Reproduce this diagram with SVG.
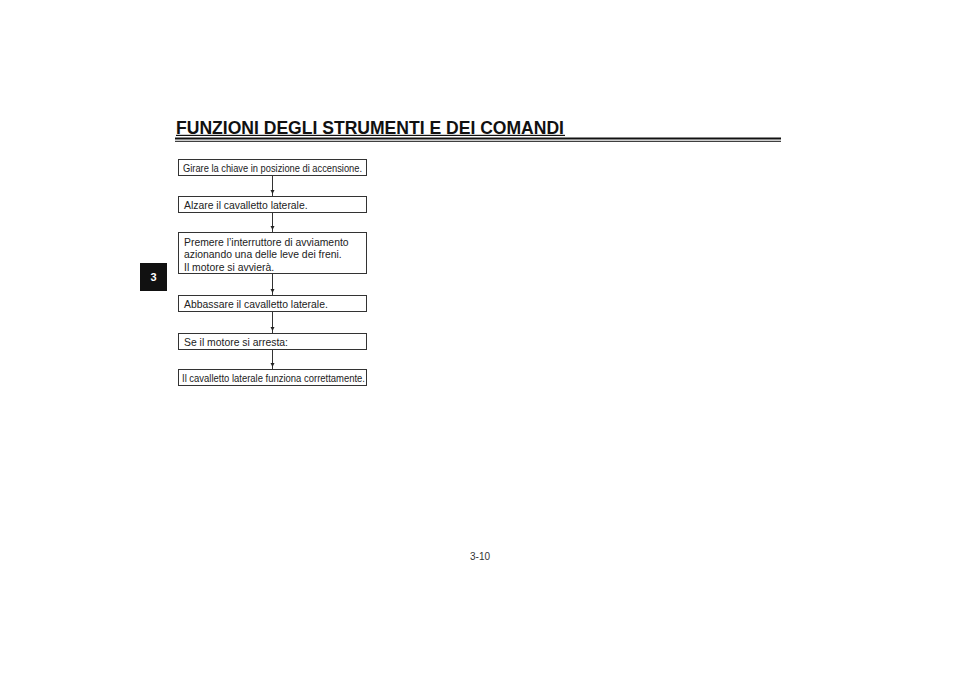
<svg xmlns="http://www.w3.org/2000/svg" width="960" height="678" viewBox="0 0 960 678">
<defs>
<style>
.box{fill:#fff;stroke:#333;stroke-width:1}
.t{font-family:"Liberation Sans",Arial,sans-serif;font-size:10.4px;fill:#222}
.conn{stroke:#333;stroke-width:1;fill:none}
.ah{fill:#222}
.title{font-family:"Liberation Sans",Arial,sans-serif;font-weight:bold;font-size:19px;fill:#111}
</style>
</defs>
<rect width="960" height="678" fill="#fff"/>
<g id="header">
<text class="title" x="176" y="133.5" textLength="388" lengthAdjust="spacingAndGlyphs">FUNZIONI DEGLI STRUMENTI E DEI COMANDI</text>
<rect x="176" y="134.8" width="389" height="1.2" fill="#111"/>
<rect x="175" y="137.5" width="606" height="2" fill="#111"/>
<rect x="175" y="140.8" width="606" height="1" fill="#111"/>
</g>
<g id="tab">
<rect x="140" y="263" width="27" height="28" fill="#111"/>
<text x="153.5" y="281" text-anchor="middle" font-family="Liberation Sans,Arial,sans-serif" font-weight="bold" font-size="11" fill="#fff">3</text>
</g>
<g id="connectors">
<line class="conn" x1="272.5" y1="175" x2="272.5" y2="196"/>
<polygon class="ah" points="270.5,190 274.5,190 272.5,194"/>
<line class="conn" x1="272.5" y1="212" x2="272.5" y2="232"/>
<polygon class="ah" points="270.5,226 274.5,226 272.5,230"/>
<line class="conn" x1="272.5" y1="274" x2="272.5" y2="295"/>
<polygon class="ah" points="270.5,289 274.5,289 272.5,293"/>
<line class="conn" x1="272.5" y1="311" x2="272.5" y2="333"/>
<polygon class="ah" points="270.5,327 274.5,327 272.5,331"/>
<line class="conn" x1="272.5" y1="349" x2="272.5" y2="369"/>
<polygon class="ah" points="270.5,363 274.5,363 272.5,367"/>
</g>
<g id="n1">
<rect class="box" x="178.5" y="159.5" width="188" height="16"/>
<text class="t" x="183" y="171.5" textLength="179" lengthAdjust="spacingAndGlyphs">Girare la chiave in posizione di accensione.</text>
</g>
<g id="n2">
<rect class="box" x="178.5" y="196.5" width="188" height="16"/>
<text class="t" x="184" y="208.5">Alzare il cavalletto laterale.</text>
</g>
<g id="n3">
<rect class="box" x="178.5" y="232.5" width="188" height="41"/>
<text class="t" x="184" y="245.5">Premere l’interruttore di avviamento</text>
<text class="t" x="184" y="258">azionando una delle leve dei freni.</text>
<text class="t" x="184" y="270.5">Il motore si avvierà.</text>
</g>
<g id="n4">
<rect class="box" x="178.5" y="295.5" width="188" height="16"/>
<text class="t" x="184" y="307.5">Abbassare il cavalletto laterale.</text>
</g>
<g id="n5">
<rect class="box" x="178.5" y="333.5" width="188" height="16"/>
<text class="t" x="184" y="345.5">Se il motore si arresta:</text>
</g>
<g id="n6">
<rect class="box" x="178.5" y="369.5" width="188" height="16"/>
<text class="t" x="182" y="381.5" textLength="183" lengthAdjust="spacingAndGlyphs">Il cavalletto laterale funziona correttamente.</text>
</g>
<g id="footer">
<text x="480" y="560" text-anchor="middle" font-family="Liberation Sans,Arial,sans-serif" font-size="10" fill="#333">3-10</text>
</g>
</svg>
